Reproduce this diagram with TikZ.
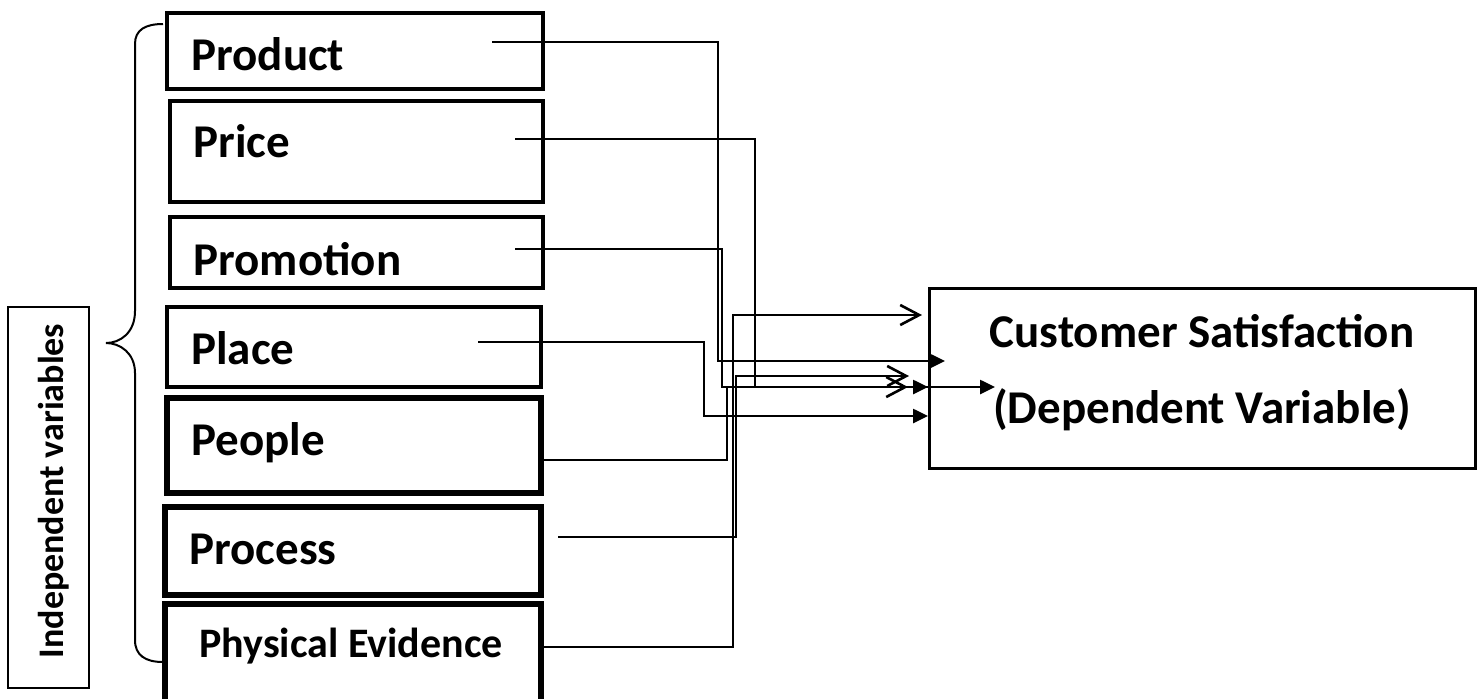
\documentclass[tikz,border=0pt]{standalone}
\usepackage{fontspec}
\setmainfont{Carlito}
\usetikzlibrary{arrows.meta}

\begin{document}
\begin{tikzpicture}[x=0.5pt,y=-0.5pt,
  factor/.style={draw,line width=#1,minimum width=0pt,minimum height=0pt,inner sep=0pt},
  lbl/.style={anchor=base west,inner sep=0pt,font=\fontsize{23.5}{28}\selectfont\bfseries},
  conn/.style={line width=1.3pt},
  solidtip/.style={conn,-{Triangle[length=7.5pt,width=7pt]}},
  opentip/.style={conn,-{Straight Barb[length=9.5pt,width=10pt]}}]

\clip (0,0) rectangle (1478,698);
\fill[white] (0,0) rectangle (1478,698);

% the seven factor boxes
\node[factor=1.8pt,minimum width=188pt,minimum height=38pt]    (product)   at (355,51) {};
\node[factor=2.2pt,minimum width=186.5pt,minimum height=50.5pt] (price)     at (356.5,151.5) {};
\node[factor=2.2pt,minimum width=186.5pt,minimum height=35.5pt] (promotion) at (356.5,252.5) {};
\node[factor=1.8pt,minimum width=187pt,minimum height=40pt]    (place)     at (354,347) {};
\node[factor=2.6pt,minimum width=187pt,minimum height=47.5pt]  (people)    at (354,445.5) {};
\node[factor=2.6pt,minimum width=188pt,minimum height=44pt]    (process)   at (353,551) {};
\node[factor=2.6pt,minimum width=188pt,minimum height=55.5pt]  (physical)  at (353,659.5) {};

\node[lbl] at (191,70)  {Product};
\node[lbl] at (193,157) {Price};
\node[lbl] at (193,275) {Promotion};
\node[lbl] at (191,364) {Place};
\node[lbl] at (191,455) {People};
\node[lbl] at (189,564) {Process};
\node[lbl,font=\fontsize{21}{25}\selectfont\bfseries] at (199,657) {Physical Evidence};

% dependent variable box
\node[factor=1.5pt,minimum width=273pt,minimum height=90pt] (cs) at (1202,378) {};
\node[anchor=base,inner sep=0pt,font=\fontsize{23.5}{28}\selectfont\bfseries] (cs1) at (1202,347) {Customer Satisfaction};
\node[anchor=base,inner sep=0pt,font=\fontsize{23.5}{28}\selectfont\bfseries] (cs2) at (1202,423) {(Dependent Variable)};

% independent variables label and brace
\node[factor=1pt,minimum width=40.5pt,minimum height=190.5pt] (iv) at (48.5,497.5) {};
\node[rotate=90,inner sep=0pt,font=\fontsize{18}{22}\selectfont\bfseries] (ivtext) at (54,491) {Independent variables};

\draw[line width=1pt] (163,24) .. controls (145,24) and (135,30) .. (135,44)
  -- (135,311) .. controls (135,333) and (120,343) .. (106,343)
  .. controls (120,343) and (135,353) .. (135,373)
  -- (135,640) .. controls (135,655) and (145,662) .. (163,662);

% connector end points
\coordinate (pd-s) at (492,42);
\coordinate (pr-s) at (515,139);
\coordinate (pm-s) at (515,249);
\coordinate (pl-s) at (478,342);
\coordinate (pe-s) at (543,460);
\coordinate (ps-s) at (558,537);
\coordinate (ph-s) at (543,647);

\coordinate (pd-t) at (945,361);
\coordinate (pr-t) at (995,387);
\coordinate (pm-t) at (928,387);
\coordinate (pe-t) at (908,387);
\coordinate (pl-t) at (928,416);
\coordinate (ps-t) at (909,376);
\coordinate (ph-t) at (922,315);

% vertical runs
\coordinate (pd-v) at (718,0);
\coordinate (pr-v) at (755,0);
\coordinate (pm-v) at (722,0);
\coordinate (pl-v) at (704,0);
\coordinate (pe-v) at (727,0);
\coordinate (ps-v) at (736,0);
\coordinate (ph-v) at (733,0);

\draw[solidtip] (pd-s) -| (pd-v |- pd-t) -- (pd-t);
\draw[solidtip] (pr-s) -| (pr-v |- pr-t) -- (pr-t);
\draw[solidtip] (pm-s) -| (pm-v |- pm-t) -- (pm-t);
\draw[solidtip] (pl-s) -| (pl-v |- pl-t) -- (pl-t);
\draw[opentip]  (pe-s) -| (pe-v |- pe-t) -- (pe-t);
\draw[opentip]  (ps-s) -| (ps-v |- ps-t) -- (ps-t);
\draw[opentip]  (ph-s) -| (ph-v |- ph-t) -- (ph-t);
\end{tikzpicture}
\end{document}
